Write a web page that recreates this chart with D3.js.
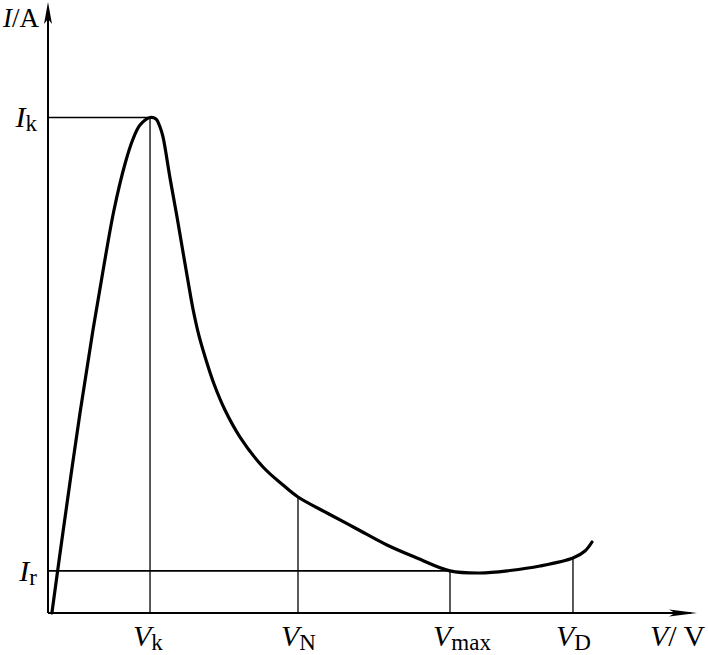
<!DOCTYPE html>
<html>
<head>
<meta charset="utf-8">
<script src="https://cdn.jsdelivr.net/npm/d3@7"></script>
<style>
  body { margin: 0; background: #fff; }
  text { font-family: "Liberation Serif", "Times New Roman", serif; fill: #000; }
</style>
</head>
<body>
<div id="chart"></div>
<script>
const width = 708,
  height = 655,
  origin = { x: 48, y: 613 },
  axisEnd = { x: 697, y: 2 };

// curve I(V), arbitrary units
const curveV = [0.06, 0.231, 0.493, 0.693, 0.863, 1.017, 1.186, 1.31, 1.418, 1.572, 1.664, 1.726, 1.772, 1.88, 1.988, 2.08, 2.157, 2.234, 2.327, 2.435, 2.558, 2.727, 2.958, 3.313, 3.621, 3.852, 4.299, 4.761, 5.223, 5.686, 6.194, 6.656, 7.119, 7.581, 8.089, 8.274, 8.382];
const curveI = [0, 1.326, 3.273, 4.632, 5.696, 6.596, 7.349, 7.758, 7.987, 8.11, 8.085, 7.954, 7.791, 7.119, 6.481, 5.908, 5.434, 4.975, 4.534, 4.141, 3.748, 3.322, 2.88, 2.39, 2.095, 1.899, 1.637, 1.375, 1.113, 0.9, 0.69, 0.655, 0.696, 0.769, 0.9, 1.015, 1.162];

// marked points on the V axis
const xTickNames = ["k", "N", "max", "D"];
const xTickValues = [1.572, 3.852, 6.194, 8.089];
const xTickTops = [8.11, 1.899, 0.69, 0.9];

// marked points on the I axis
const yTickNames = ["k", "r"];
const yTickValues = [8.11, 0.69];
const yTickEnds = [1.572, 6.194];

const x = d3.scaleLinear().domain([0, 10]).range([origin.x, axisEnd.x]);
const y = d3.scaleLinear().domain([0, 10]).range([origin.y, axisEnd.y]);

const svg = d3
  .select("#chart")
  .append("svg")
  .attr("width", width)
  .attr("height", height);

// guide lines
svg
  .selectAll(".vguide")
  .data(xTickValues)
  .enter()
  .append("line")
  .attr("x1", d => x(d))
  .attr("x2", d => x(d))
  .attr("y1", (d, i) => y(xTickTops[i]))
  .attr("y2", y(0))
  .attr("stroke", "#000")
  .attr("stroke-width", 1.3);

svg
  .selectAll(".hguide")
  .data(yTickValues)
  .enter()
  .append("line")
  .attr("x1", x(0))
  .attr("x2", (d, i) => x(yTickEnds[i]))
  .attr("y1", d => y(d))
  .attr("y2", d => y(d))
  .attr("stroke", "#000")
  .attr("stroke-width", 1.6);

// axes
svg
  .append("line")
  .attr("x1", x(0))
  .attr("x2", x(10) - 6)
  .attr("y1", y(0))
  .attr("y2", y(0))
  .attr("stroke", "#000")
  .attr("stroke-width", 1.8);
svg
  .append("line")
  .attr("x1", x(0))
  .attr("x2", x(0))
  .attr("y1", y(0))
  .attr("y2", y(10) + 6)
  .attr("stroke", "#000")
  .attr("stroke-width", 2);

svg
  .append("path")
  .attr("d", `M${x(10)},${y(0)} L${x(10) - 28},${y(0) - 3.5} L${x(10) - 22},${y(0)} L${x(10) - 28},${y(0) + 3.5} Z`)
  .attr("fill", "#000");
svg
  .append("path")
  .attr("d", `M${x(0)},${y(10)} L${x(0) - 4},${y(10) + 22} L${x(0)},${y(10) + 17} L${x(0) + 4},${y(10) + 22} Z`)
  .attr("fill", "#000");

// curve
const pts = curveV.map((v, i) => [v, curveI[i]]);
svg
  .append("path")
  .datum(pts)
  .attr("fill", "none")
  .attr("stroke", "#000")
  .attr("stroke-width", 3.2)
  .attr("stroke-linecap", "round")
  .attr("stroke-linejoin", "round")
  .attr(
    "d",
    d3
      .line()
      .curve(d3.curveCatmullRom.alpha(0.5))
      .x(d => x(d[0]))
      .y(d => y(d[1]))
  );

// x labels
xTickValues.forEach((v, i) => {
  const t = svg
    .append("text")
    .attr("x", x(v) - 17)
    .attr("y", 646)
    .attr("font-size", 30);
  t.append("tspan").attr("font-style", "italic").text("V");
  t.append("tspan")
    .attr("font-size", 23)
    .attr("dy", 4)
    .text(xTickNames[i]);
});

// y labels
yTickValues.forEach((v, i) => {
  const t = svg
    .append("text")
    .attr("x", 37)
    .attr("y", y(v) + 10)
    .attr("text-anchor", "end")
    .attr("font-size", 30);
  t.append("tspan").attr("font-style", "italic").text("I");
  t.append("tspan")
    .attr("font-size", 23)
    .attr("dy", 4)
    .text(yTickNames[i]);
});

// axis titles
const yt = svg.append("text").attr("x", 3).attr("y", 27).attr("font-size", 27);
yt.append("tspan").attr("font-style", "italic").text("I");
yt.append("tspan").text("/A");

const xt = svg.append("text").attr("x", 650).attr("y", 646).attr("font-size", 30);
xt.append("tspan").attr("font-style", "italic").text("V");
xt.append("tspan").text("/ V");
</script>
</body>
</html>
